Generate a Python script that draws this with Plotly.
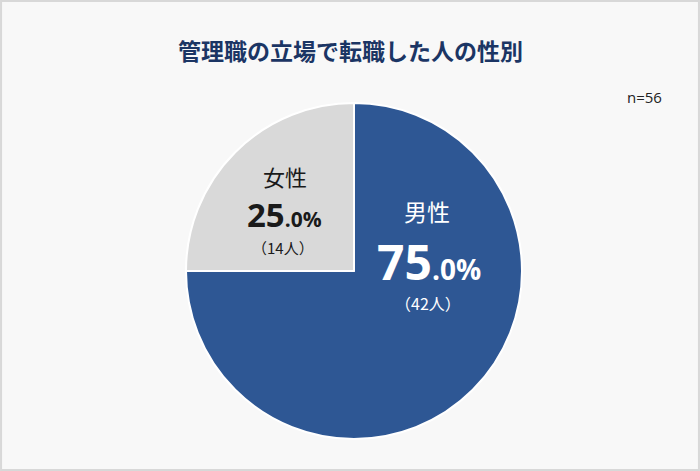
import plotly.graph_objects as go

# Data
labels = ["男性", "女性"]
counts = [42, 14]
colors = ["#2e5794", "#d9d9d9"]
title_text = "管理職の立場で転職した人の性別"
n_text = "n=56"

W, H = 700, 471
FONT = "Open Sans, Noto Sans CJK JP"
CJK = "Noto Sans CJK JP"

total = sum(counts)
shares = [c / total * 100 for c in counts]

fig = go.Figure()
fig.add_trace(go.Pie(
    labels=labels, values=counts, sort=False, direction="clockwise", rotation=0,
    marker=dict(colors=colors, line=dict(color="white", width=2)),
    textinfo="none", hoverinfo="label+percent", showlegend=False,
    domain=dict(x=[186 / W, 522 / W], y=[1 - 439 / H, 1 - 103 / H]),
))


def px_x(x):
    return x / W


def px_y(y):
    return 1 - y / H


def pct_html(v, big, small):
    whole, dec = f"{v:.1f}".split(".")
    return (f"<b><span style='font-size:{big}px'>{whole}</span>"
            f"<span style='font-size:{small}px'>.{dec}%</span></b>")


# label placement: (name xy, pct xy, count xy, color, sizes)
label_pos = {
    "男性": dict(name=(427, 211), pct=(429, 261), cnt=(428, 303), color="white",
                 name_size=23, big=48, small=28, cnt_size=16),
    "女性": dict(name=(285, 176), pct=(284, 214), cnt=(283, 247), color="#1a1a1a",
                 name_size=22, big=33, small=21, cnt_size=15),
}

annotations = []
for lab, c, s in zip(labels, counts, shares):
    p = label_pos[lab]
    annotations.append(dict(x=px_x(p["name"][0]), y=px_y(p["name"][1]), text=lab,
                            font=dict(size=p["name_size"], color=p["color"], family=CJK)))
    annotations.append(dict(x=px_x(p["pct"][0]), y=px_y(p["pct"][1]),
                            text=pct_html(s, p["big"], p["small"]),
                            font=dict(size=p["small"], color=p["color"], family=FONT)))
    annotations.append(dict(x=px_x(p["cnt"][0]), y=px_y(p["cnt"][1]), text=f"（{c}人）",
                            font=dict(size=p["cnt_size"], color=p["color"], family=CJK)))

annotations.append(dict(x=px_x(350), y=px_y(50), text=f"<b>{title_text}</b>",
                        font=dict(size=23, color="#1b3564", family=CJK)))
annotations.append(dict(x=px_x(644), y=px_y(97), text=n_text,
                        font=dict(size=15, color="#222222", family=FONT)))

for a in annotations:
    a.update(xref="paper", yref="paper", showarrow=False, xanchor="center", yanchor="middle")

fig.update_layout(
    width=W, height=H,
    margin=dict(l=0, r=0, t=0, b=0),
    paper_bgcolor="#f8f8f8", plot_bgcolor="#f8f8f8",
    annotations=annotations,
    shapes=[dict(type="rect", xref="paper", yref="paper", x0=0.0015, x1=0.9985,
                 y0=0.002, y1=0.998, line=dict(color="#d8d8d8", width=2))],
)

fig.write_html("out.html", config={"displayModeBar": False},
               post_script="document.body.style.margin='0';")
